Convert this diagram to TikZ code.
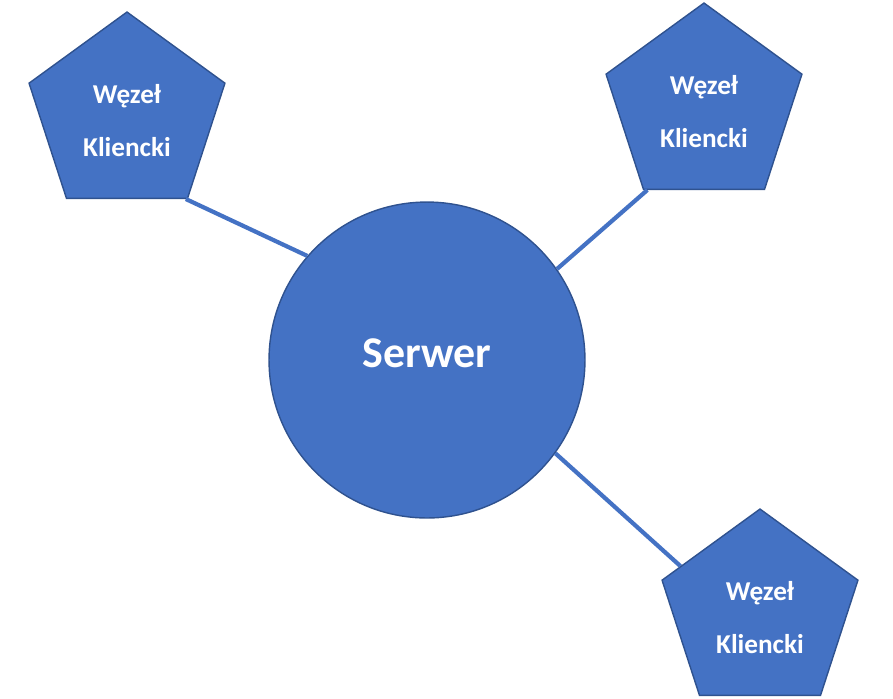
\documentclass[tikz,border=0pt]{standalone}
\usepackage{fontspec}
\setmainfont{Carlito}
\usetikzlibrary{shapes.geometric}
\definecolor{bleu}{HTML}{4472C4}
\definecolor{bord}{HTML}{2F528F}
\newcommand{\decal}[2]{\raisebox{#1}[\height][\depth]{#2}}

\begin{document}
\begin{tikzpicture}[x=0.02cm,y=-0.02cm,
    client/.style={regular polygon, regular polygon sides=5, minimum size=4.12cm,
        inner sep=0pt, fill=bleu, draw=bord, line width=0.8pt, text=white,
        font=\bfseries\fontsize{15.5}{30}\selectfont, align=center},
    serveur/.style={circle, minimum size=6.32cm, inner sep=0pt, fill=bleu,
        draw=bord, line width=0.8pt, text=white, font=\bfseries\fontsize{25}{28}\selectfont},
    lien/.style={draw=bleu, line width=2.4pt}]
    \useasboundingbox (0,0) rectangle (893,698);

    % Points
    \coordinate (S) at (427,360);   % centre du serveur
    \coordinate (C1) at (127,115);
    \coordinate (C2) at (704,106);
    \coordinate (C3) at (760,612);

    % Formes
    \node[serveur] (srv) at (S) {\decal{4pt}{Serwer}};
    \node[client] (cl1) at (C1) {\decal{-3pt}{Węzeł}\\\decal{-3pt}{Kliencki}};
    \node[client] (cl2) at (C2) {\decal{-3pt}{Węzeł}\\\decal{-3pt}{Kliencki}};
    \node[client] (cl3) at (C3) {\decal{-3pt}{Węzeł}\\\decal{-3pt}{Kliencki}};

    % Liens
    \draw[lien] (cl1.305) -- (srv.139.4);
    \draw[lien] (cl2.236) -- (srv.35.3);
    \draw[lien] (srv.-36.4) -- (cl3.150);

\end{tikzpicture}
\end{document}
